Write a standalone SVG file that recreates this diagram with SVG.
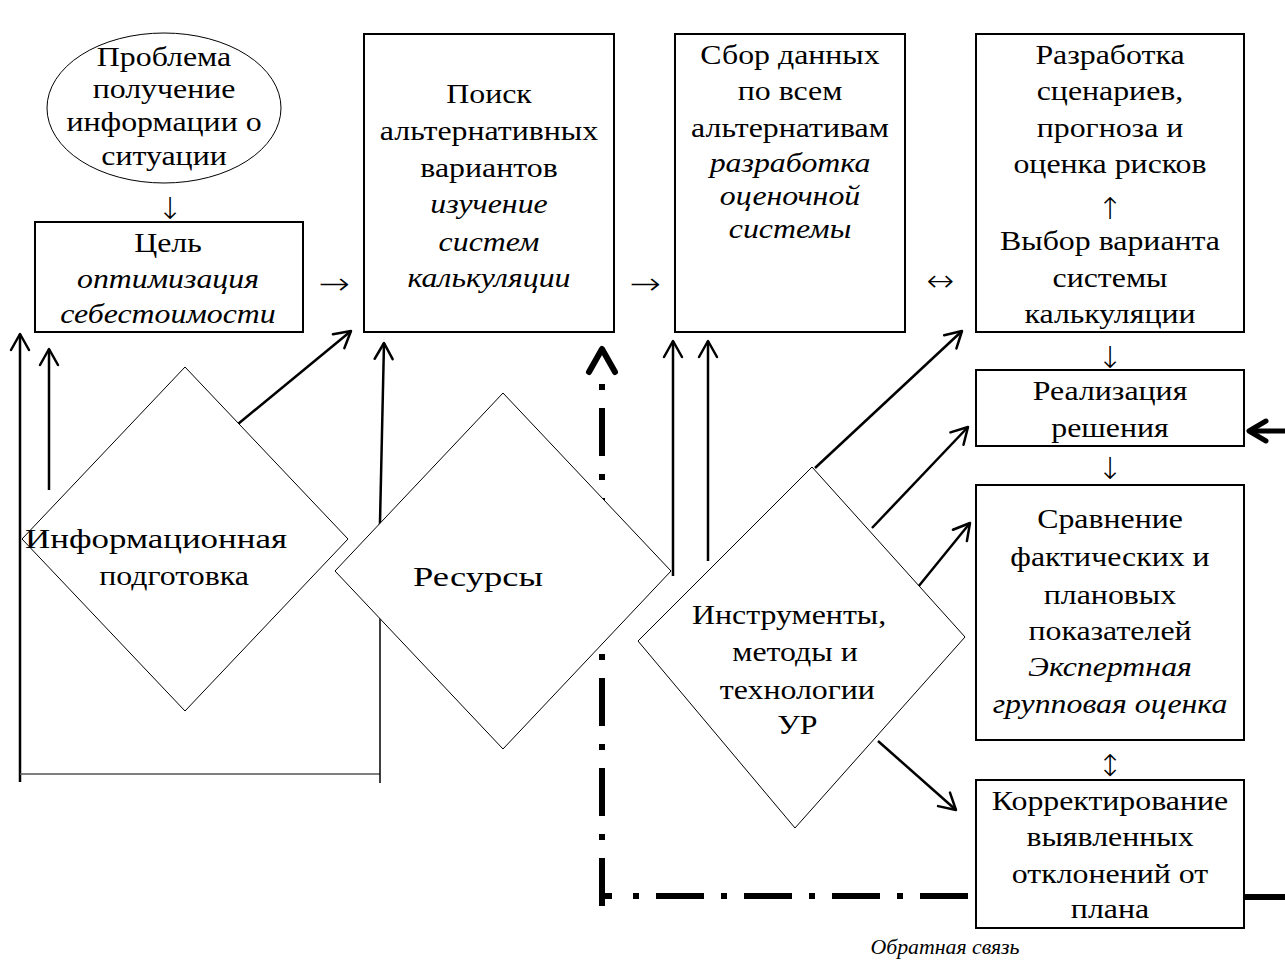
<svg xmlns="http://www.w3.org/2000/svg" width="1285" height="961" viewBox="0 0 1285 961">
<style>
.t{font-family:"Liberation Serif","Times New Roman",serif;font-size:27px;text-anchor:middle;fill:#000}
.i{font-style:italic}
.a{font-family:"DejaVu Sans",sans-serif;font-weight:200;font-size:30px;text-anchor:middle;fill:#000}
.box{fill:#fff;stroke:#000;stroke-width:2}
.dia{fill:#fff;stroke:#000;stroke-width:1}
.arr{fill:none;stroke:#000;stroke-width:2.5;marker-end:url(#open)}
.dd{fill:none;stroke:#000;stroke-width:6}
</style>
<defs>
<marker id="open" markerUnits="userSpaceOnUse" viewBox="-20 -12 24 24" refX="0" refY="0" markerWidth="24" markerHeight="24" orient="auto" overflow="visible">
<path d="M-16,-9 L0,0 L-16,9" fill="none" stroke="#000" stroke-width="2.5" stroke-linecap="round" stroke-linejoin="round"/>
</marker>
</defs>
<rect width="1285" height="961" fill="#fff"/>

<g id="connectors">
<path d="M20,782 L20,334" class="arr"/>
<path d="M49,490 L49,349" class="arr"/>
<path d="M20,774 L380,774" fill="none" stroke="#555" stroke-width="1.5"/>
<path d="M380,597 L380,783" fill="none" stroke="#000" stroke-width="1.5"/>
<path d="M238,424 L351,331" class="arr"/>
<path d="M379,567 L384,343" class="arr"/>
<path d="M673,576 L673,341" class="arr"/>
<path d="M708,561 L708,341" class="arr"/>
<path d="M815,468 L962,331" class="arr"/>
<path d="M872,528 L968,427" class="arr"/>
<path d="M918,587 L970,523" class="arr"/>
<path d="M878,741 L956,810" class="arr"/>
<path d="M602,384 L602,907" class="dd" stroke-dasharray="6 18 48 18"/>
<path d="M589,372 L602,349 L615,372" fill="none" stroke="#000" stroke-width="6" stroke-linecap="round" stroke-linejoin="round"/>
<path d="M602,896 L612,896" class="dd"/>
<path d="M633,896 L976,896" class="dd" stroke-dasharray="6 17 48 17"/>
<path d="M1245,897 L1285,897" class="dd"/>
<path d="M1285,431 L1250,431" fill="none" stroke="#000" stroke-width="5"/>
<path d="M1266,421 L1249,431 L1266,441" fill="none" stroke="#000" stroke-width="5" stroke-linecap="round" stroke-linejoin="round"/>
<text class="a" x="170" y="219">↓</text>
<text class="a" transform="translate(334 0) scale(1.25 1)" x="0" y="294">→</text>
<text class="a" transform="translate(645 0) scale(1.25 1)" x="0" y="294">→</text>
<text class="a" transform="translate(940 0) scale(1.1 1)" x="0" y="291">↔</text>
<text class="a" x="1110" y="368">↓</text>
<text class="a" x="1110" y="479">↓</text>
<text class="a" x="1110" y="776">↕</text>
</g>

<g id="n-problem">
<ellipse cx="164" cy="108" rx="117" ry="75" class="dia"/>
<text class="t" transform="translate(164 0) scale(1.18 1)"><tspan x="0" y="66">Проблема</tspan><tspan x="0" y="98">получение</tspan><tspan x="0" y="131">информации о</tspan><tspan x="0" y="165">ситуации</tspan></text>
</g>

<g id="n-goal">
<rect x="35" y="222" width="268" height="110" class="box"/>
<text class="t" transform="translate(168 0) scale(1.18 1)"><tspan x="0" y="252">Цель</tspan><tspan x="0" y="288" class="i">оптимизация</tspan><tspan x="0" y="323" class="i">себестоимости</tspan></text>
</g>

<g id="n-search">
<rect x="364" y="34" width="250" height="298" class="box"/>
<text class="t" transform="translate(489 0) scale(1.18 1)"><tspan x="0" y="103">Поиск</tspan><tspan x="0" y="140">альтернативных</tspan><tspan x="0" y="177">вариантов</tspan><tspan x="0" y="213" class="i">изучение</tspan><tspan x="0" y="251" class="i">систем</tspan><tspan x="0" y="287" class="i">калькуляции</tspan></text>
</g>

<g id="n-collect">
<rect x="675" y="34" width="230" height="298" class="box"/>
<text class="t" transform="translate(790 0) scale(1.18 1)"><tspan x="0" y="64">Сбор данных</tspan><tspan x="0" y="100">по всем</tspan><tspan x="0" y="137">альтернативам</tspan><tspan x="0" y="172" class="i">разработка</tspan><tspan x="0" y="205" class="i">оценочной</tspan><tspan x="0" y="238" class="i">системы</tspan></text>
</g>

<g id="n-scenario">
<rect x="976" y="34" width="268" height="298" class="box"/>
<text class="t" transform="translate(1110 0) scale(1.18 1)"><tspan x="0" y="64">Разработка</tspan><tspan x="0" y="100">сценариев,</tspan><tspan x="0" y="137">прогноза и</tspan><tspan x="0" y="173">оценка рисков</tspan><tspan x="0" y="250">Выбор варианта</tspan><tspan x="0" y="287">системы</tspan><tspan x="0" y="323">калькуляции</tspan></text>
<text class="a" x="1110" y="219">↑</text>
</g>

<g id="n-realize">
<rect x="976" y="370" width="268" height="76" class="box"/>
<text class="t" transform="translate(1110 0) scale(1.18 1)"><tspan x="0" y="400">Реализация</tspan><tspan x="0" y="437">решения</tspan></text>
</g>

<g id="n-compare">
<rect x="976" y="485" width="268" height="255" class="box"/>
<text class="t" transform="translate(1110 0) scale(1.18 1)"><tspan x="0" y="528">Сравнение</tspan><tspan x="0" y="566">фактических и</tspan><tspan x="0" y="604">плановых</tspan><tspan x="0" y="640">показателей</tspan><tspan x="0" y="676" class="i">Экспертная</tspan><tspan x="0" y="713" class="i">групповая оценка</tspan></text>
</g>

<g id="n-correct">
<rect x="976" y="780" width="268" height="148" class="box"/>
<text class="t" transform="translate(1110 0) scale(1.18 1)"><tspan x="0" y="810">Корректирование</tspan><tspan x="0" y="846">выявленных</tspan><tspan x="0" y="883">отклонений от</tspan><tspan x="0" y="918">плана</tspan></text>
</g>

<g id="n-info">
<path d="M185,367 L348,539 L185,711 L22,539 Z" class="dia"/>
<text class="t" x="156" y="548" textLength="262" lengthAdjust="spacingAndGlyphs">Информационная</text>
<text class="t" transform="translate(174 0) scale(1.18 1)"><tspan x="0" y="585">подготовка</tspan></text>
</g>

<g id="n-resources">
<path d="M503,393 L671,571 L503,749 L335,571 Z" class="dia"/>
<text class="t" x="478" y="586" textLength="130" lengthAdjust="spacingAndGlyphs">Ресурсы</text>
</g>

<g id="n-tools">
<path d="M812,467 L965,637 L795,828 L638,641 Z" class="dia"/>
<text class="t" transform="translate(795 0) scale(1.18 1)"><tspan x="-5" y="624">Инструменты,</tspan><tspan x="0" y="661">методы и</tspan><tspan x="2" y="699">технологии</tspan><tspan x="2" y="734">УР</tspan></text>
</g>

<text class="t i" style="font-size:21px" transform="translate(945 0) scale(1.04 1)"><tspan x="0" y="954">Обратная связь</tspan></text>
</svg>
